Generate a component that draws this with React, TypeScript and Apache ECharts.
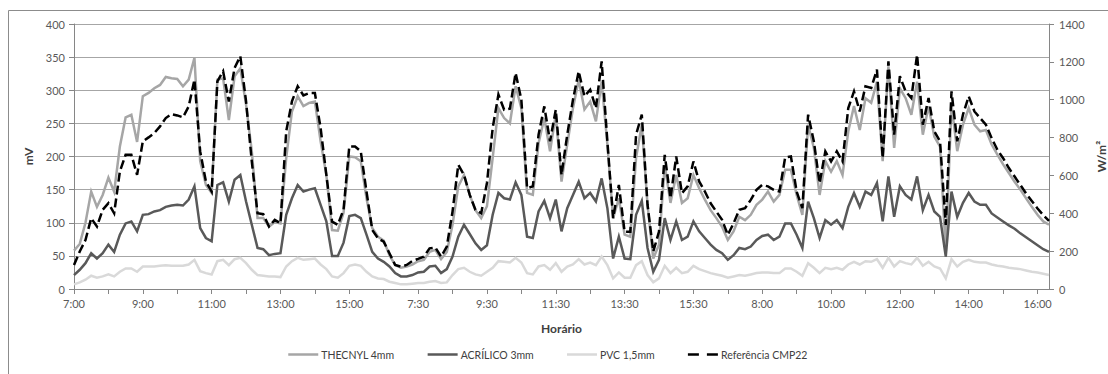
import React, { useEffect, useRef } from "react";
import * as echarts from "echarts";

// Three measurement days, sampled every 10 minutes
const daySpans: [string, string][] = [
  ["7:00", "16:50"],
  ["7:30", "17:20"],
  ["8:00", "16:20"],
];

function buildTimes(spans: [string, string][]): string[] {
  const out: string[] = [];
  for (const [a, b] of spans) {
    const [ah, am] = a.split(":").map(Number);
    const [bh, bm] = b.split(":").map(Number);
    for (let t = ah * 60 + am; t <= bh * 60 + bm; t += 10) {
      out.push(Math.floor(t / 60) + ":" + String(t % 60).padStart(2, "0"));
    }
  }
  return out;
}
const categories = buildTimes(daySpans);

const leftTicks = { min: 0, max: 400, interval: 50 };
const rightTicks = { min: 0, max: 1400, interval: 200 };

const thecnyl = [
  58, 68, 100, 147, 124, 142, 168, 147, 215, 259, 263, 222, 291, 296, 303, 308, 320, 318, 317, 306, 316, 349, 193, 157,
  145, 316, 318, 255, 321, 333, 278, 208, 107, 107, 94, 101, 99, 198, 268, 291, 276, 281, 283, 223, 172, 89, 88, 115,
  200, 199, 193, 137, 92, 79, 73, 51, 36, 32, 34, 37, 42, 44, 56, 59, 45, 56, 97, 155, 172, 142, 119, 107,
  125, 198, 273, 258, 250, 306, 273, 145, 142, 220, 258, 208, 263, 162, 218, 273, 316, 271, 283, 253, 313, 218, 107, 137,
  82, 79, 198, 248, 127, 46, 67, 187, 130, 172, 130, 137, 172, 152, 135, 119, 107, 94, 74, 87, 109, 104, 112, 127,
  135, 147, 132, 142, 180, 180, 142, 112, 248, 213, 142, 193, 177, 193, 172, 238, 276, 240, 288, 281, 313, 193, 336, 213,
  303, 288, 263, 313, 233, 276, 230, 215, 56, 278, 208, 248, 273, 248, 238, 240, 218, 203, 188, 175, 162, 150, 137, 124, 112, 102, 97,
];

const acrilico = [
  21, 29, 39, 54, 46, 54, 67, 56, 82, 99, 102, 87, 112, 113, 117, 119, 124, 126, 127, 126, 135, 155, 92, 77,
  72, 157, 161, 132, 165, 172, 132, 97, 62, 60, 51, 53, 54, 112, 137, 157, 147, 150, 152, 127, 102, 50, 50, 70,
  110, 112, 107, 82, 56, 46, 41, 34, 24, 19, 19, 21, 25, 26, 34, 35, 24, 30, 49, 79, 97, 83, 69, 59,
  66, 112, 145, 137, 135, 161, 142, 79, 77, 117, 133, 107, 135, 87, 122, 142, 162, 137, 145, 132, 167, 122, 46, 79,
  46, 45, 112, 133, 62, 26, 44, 107, 74, 102, 74, 79, 102, 87, 77, 67, 59, 54, 44, 51, 62, 60, 64, 74,
  80, 82, 74, 79, 99, 99, 82, 62, 132, 107, 77, 104, 97, 104, 92, 124, 145, 124, 147, 142, 160, 102, 170, 109,
  155, 142, 135, 170, 119, 142, 117, 109, 49, 147, 109, 130, 145, 132, 127, 127, 114, 108, 102, 96, 91, 84, 78, 72, 66, 60, 56,
];

const pvc = [
  7, 10, 14, 20, 17, 19, 22, 19, 26, 31, 31, 26, 34, 34, 34, 35, 36, 35, 35, 35, 37, 44, 27, 24,
  22, 42, 44, 36, 45, 47, 39, 29, 21, 20, 19, 19, 18, 34, 42, 47, 44, 45, 46, 37, 30, 19, 17, 24,
  35, 37, 35, 26, 19, 16, 15, 11, 9, 7, 7, 8, 9, 9, 11, 12, 9, 10, 21, 30, 32, 26, 22, 20,
  26, 32, 42, 41, 40, 47, 40, 24, 22, 34, 36, 29, 39, 26, 34, 37, 45, 37, 40, 36, 49, 36, 16, 25,
  17, 17, 36, 42, 21, 10, 16, 35, 24, 32, 24, 26, 35, 30, 27, 24, 22, 20, 17, 19, 21, 20, 22, 24,
  25, 25, 24, 24, 31, 31, 26, 20, 39, 32, 24, 32, 30, 32, 29, 37, 41, 37, 42, 41, 45, 32, 47, 34,
  42, 39, 37, 47, 35, 41, 34, 31, 16, 45, 34, 41, 44, 41, 40, 40, 37, 35, 34, 32, 31, 30, 28, 26, 25, 23, 21,
];

const referencia = [
  127, 198, 259, 374, 330, 418, 453, 400, 621, 709, 709, 603, 780, 801, 824, 859, 903, 924, 917, 907, 965, 1106, 727, 568,
  515, 1097, 1150, 991, 1168, 1230, 991, 674, 400, 395, 330, 365, 347, 833, 991, 1071, 1023, 1035, 1035, 850, 603, 356, 339, 420,
  753, 753, 727, 515, 312, 268, 250, 189, 127, 118, 127, 148, 159, 171, 215, 219, 171, 224, 409, 656, 603, 497, 418, 400,
  560, 850, 1027, 947, 953, 1141, 1000, 533, 542, 815, 965, 780, 947, 603, 815, 1000, 1150, 1018, 1053, 956, 1203, 780, 374, 550,
  303, 303, 815, 921, 445, 198, 303, 709, 480, 700, 506, 542, 674, 568, 515, 453, 409, 365, 286, 347, 418, 427, 471, 524,
  550, 542, 524, 515, 695, 700, 515, 427, 921, 780, 559, 727, 674, 727, 674, 956, 1044, 938, 1071, 1062, 1159, 691, 1203, 815,
  1124, 1044, 1009, 1238, 868, 1009, 833, 780, 339, 1044, 780, 921, 1018, 938, 903, 868, 797, 736, 691, 639, 594, 550, 505, 465, 425, 390, 360,
];

const seriesNames = ["THECNYL 4mm", "ACRÍLICO 3mm", "PVC 1,5mm", "Referência CMP22"];

const FONT = "Lato, 'Liberation Sans', sans-serif";
const TXT = "#595959";
const AXIS = "#868686";

export default function App() {
  const ref = useRef<HTMLDivElement>(null);
  useEffect(() => {
    if (!ref.current) return;
    const chart = echarts.init(ref.current, null, { renderer: "svg" });
    const lineSeries = (name: string, data: number[], color: string, yAxisIndex = 0, dashed = false) => ({
      name,
      type: "line",
      data,
      yAxisIndex,
      symbol: "none",
      showSymbol: false,
      lineStyle: {
        color,
        width: 2.5,
        type: dashed ? [9, 4] : "solid",
        cap: "butt",
        join: "miter",
      },
      itemStyle: { color },
      emphasis: { disabled: true },
    });
    chart.setOption({
      animation: false,
      backgroundColor: "#ffffff",
      textStyle: { fontFamily: FONT },
      graphic: [
        {
          type: "rect",
          shape: { x: 8.5, y: 10.5, width: 1140, height: 420 },
          style: { fill: "none", stroke: "#8c8c8c", lineWidth: 1 },
          silent: true,
        },
      ],
      grid: { left: 74, right: 59, top: 24, bottom: 85, containLabel: false, outerBoundsMode: "none" },
      legend: {
        left: 282,
        top: 344,
        itemWidth: 30,
        itemHeight: 10,
        itemGap: 32,
        data: seriesNames.map((n, i) =>
          i === 3 ? { name: n, lineStyle: { type: [11, 8] } } : { name: n }
        ),
        itemStyle: { opacity: 0 },
        lineStyle: { width: 2.5 },
        textStyle: { fontFamily: FONT, fontSize: 10.5, color: "#404040", padding: [0, 0, 0, -2] },
      },
      xAxis: {
        type: "category",
        data: categories,
        boundaryGap: false,
        name: "Horário",
        nameLocation: "middle",
        nameGap: 33,
        nameTextStyle: { fontFamily: FONT, fontSize: 12, fontWeight: "bold", color: "#404040" },
        axisLine: { lineStyle: { color: AXIS, width: 1 } },
        axisTick: { show: true, interval: 5, length: 5, lineStyle: { color: AXIS } },
        axisLabel: { interval: 11, color: TXT, fontSize: 11, fontFamily: FONT, margin: 9 },
        splitLine: { show: false },
      },
      yAxis: [
        {
          type: "value",
          ...leftTicks,
          position: "left",
          name: "mV",
          nameLocation: "middle",
          nameGap: 34,
          nameTextStyle: { fontFamily: FONT, fontSize: 12, fontWeight: "bold", color: "#404040" },
          axisLine: { show: true, lineStyle: { color: AXIS, width: 1 } },
          axisTick: { show: true, length: 5, lineStyle: { color: AXIS } },
          axisLabel: { color: TXT, fontSize: 11, fontFamily: FONT, margin: 9 },
          splitLine: { show: true, lineStyle: { color: "#a6a6a6", width: 1 } },
        },
        {
          type: "value",
          ...rightTicks,
          position: "right",
          name: "W/m²",
          nameLocation: "middle",
          nameGap: 41,
          nameTextStyle: { fontFamily: FONT, fontSize: 12, fontWeight: "bold", color: "#404040" },
          axisLine: { show: true, lineStyle: { color: AXIS, width: 1 } },
          axisTick: { show: true, length: 5, lineStyle: { color: AXIS } },
          axisLabel: { color: TXT, fontSize: 11, fontFamily: FONT, margin: 10, formatter: (v: number) => String(v) },
          splitLine: { show: false },
        },
      ],
      series: [
        lineSeries(seriesNames[0], thecnyl, "#a6a6a6"),
        lineSeries(seriesNames[1], acrilico, "#595959"),
        lineSeries(seriesNames[2], pvc, "#d9d9d9"),
        lineSeries(seriesNames[3], referencia, "#000000", 1, true),
      ],
    });
    return () => chart.dispose();
  }, []);
  return (
    <div
      ref={ref}
      style={{ position: "absolute", left: 0, top: 0, width: 1108, height: 374, background: "#fff" }}
    />
  );
}
